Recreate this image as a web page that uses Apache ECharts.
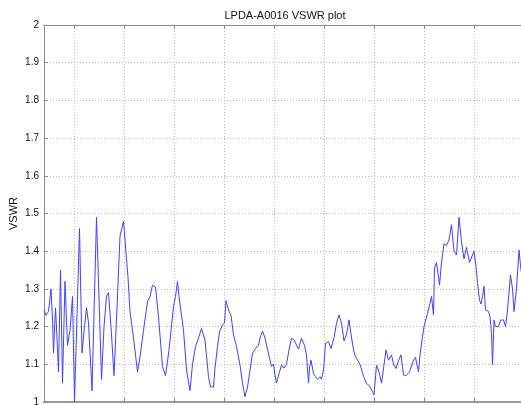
<!DOCTYPE html>
<html>
<head>
<meta charset="utf-8">
<script src="https://cdn.jsdelivr.net/npm/echarts@6/dist/echarts.min.js"></script>
<style>
html,body{margin:0;padding:0;background:#fff;}
#chart{width:521px;height:405px;}
</style>
</head>
<body>
<div id="chart"></div>
<script>
const chartTitle = 'LPDA-A0016 VSWR plot';
const yAxisName = 'VSWR';
const yTicks = [1, 1.1, 1.2, 1.3, 1.4, 1.5, 1.6, 1.7, 1.8, 1.9, 2];
const xRange = [40, 1000];

const freqMHz = [40,44,49,54,57,59,63,66,69,73,77,82,87,92,97,101,111,116,121,125,129,136,145,155,160,165,169,174,180,186,192,199,203,208,212,219,227,232,239,247,252,257,263,269,277,283,290,299,303,307,310,319,325,332,337,343,349,355,357,362,369,373,379,382,387,391,397,401,404,409,414,419,425,432,437,442,447,452,457,462,469,472,477,482,487,491,495,499,502,505,510,515,520,525,530,535,540,544,549,555,561,565,569,571,574,579,583,587,592,595,599,603,609,614,620,625,630,635,640,645,650,654,659,663,667,672,679,685,692,700,705,710,715,718,724,729,735,739,744,749,754,759,764,771,774,779,783,789,792,797,800,803,807,812,815,819,821,825,831,835,840,845,850,855,860,865,870,875,880,885,891,895,900,904,907,911,914,917,920,923,929,932,935,937,940,943,949,953,959,963,967,973,977,980,985,990,994,998];
const vswr = [1.245,1.23,1.24,1.30,1.22,1.13,1.25,1.17,1.08,1.35,1.05,1.32,1.15,1.19,1.28,1.00,1.46,1.13,1.20,1.25,1.21,1.03,1.49,1.06,1.20,1.28,1.29,1.20,1.07,1.25,1.44,1.48,1.48,1.33,1.24,1.17,1.08,1.12,1.19,1.266,1.28,1.31,1.305,1.226,1.094,1.07,1.138,1.253,1.28,1.32,1.28,1.19,1.085,1.03,1.10,1.147,1.17,1.195,1.20,1.164,1.067,1.04,1.04,1.09,1.147,1.186,1.204,1.21,1.269,1.244,1.23,1.178,1.147,1.098,1.05,1.014,1.04,1.085,1.129,1.14,1.151,1.169,1.188,1.17,1.14,1.138,1.094,1.10,1.072,1.05,1.075,1.098,1.09,1.10,1.138,1.169,1.165,1.17,1.14,1.169,1.15,1.125,1.05,1.09,1.111,1.076,1.067,1.06,1.067,1.06,1.085,1.156,1.16,1.142,1.17,1.209,1.231,1.21,1.162,1.18,1.218,1.18,1.138,1.12,1.125,1.10,1.068,1.05,1.04,1.019,1.098,1.08,1.05,1.054,1.138,1.111,1.125,1.10,1.089,1.11,1.125,1.072,1.07,1.08,1.08,1.111,1.118,1.08,1.125,1.173,1.20,1.20,1.235,1.262,1.28,1.231,1.355,1.37,1.31,1.37,1.42,1.415,1.43,1.47,1.40,1.39,1.49,1.425,1.38,1.41,1.37,1.37,1.40,1.36,1.315,1.27,1.26,1.28,1.307,1.244,1.24,1.226,1.182,1.10,1.217,1.20,1.20,1.217,1.218,1.20,1.244,1.337,1.30,1.24,1.30,1.403,1.35,1.33];

const seriesData = freqMHz.map((f, i) => [f, vswr[i]]);

const chart = echarts.init(document.getElementById('chart'), null, {renderer: 'canvas'});
const gridLine = {show: true, lineStyle: {color: '#bdbdbd', type: [1, 2], width: 1}};
const axisLineStyle = {show: true, lineStyle: {color: '#8a8a8a', width: 1}};
chart.setOption({
  animation: false,
  backgroundColor: '#ffffff',
  title: {
    text: chartTitle,
    left: 280,
    textAlign: 'center',
    top: 5,
    textStyle: {fontFamily: 'Liberation Sans, Arial, sans-serif', fontSize: 11, fontWeight: 'normal', color: '#111'}
  },
  grid: {left: 44, top: 25, width: 480, height: 377, containLabel: false, outerBoundsMode: 'none'},
  xAxis: [{
    type: 'value', min: xRange[0], max: xRange[1], splitNumber: 10,
    position: 'bottom',
    axisLine: {show: true, onZero: false, lineStyle: {color: '#9a9a9a', width: 2}},
    axisTick: {show: true, inside: true, length: 4, lineStyle: {color: '#8a8a8a'}},
    axisLabel: {show: false},
    splitLine: gridLine
  }, {
    type: 'value', min: xRange[0], max: xRange[1], splitNumber: 10,
    position: 'top',
    axisLine: axisLineStyle,
    axisTick: {show: true, inside: true, length: 4, lineStyle: {color: '#8a8a8a'}},
    axisLabel: {show: false},
    splitLine: {show: false}
  }],
  yAxis: {
    type: 'value', min: yTicks[0], max: yTicks[yTicks.length - 1], interval: 0.1,
    name: yAxisName, nameLocation: 'middle', nameGap: 25, nameRotate: 90, nameMoveOverlap: false,
    nameTextStyle: {fontFamily: 'Liberation Sans, Arial, sans-serif', fontSize: 11, color: '#111'},
    axisLine: axisLineStyle,
    axisTick: {show: true, inside: true, length: 4, lineStyle: {color: '#8a8a8a'}},
    axisLabel: {margin: 5, fontFamily: 'Liberation Sans, Arial, sans-serif', fontSize: 10, color: '#111'},
    splitLine: gridLine
  },
  series: [{
    type: 'line',
    data: seriesData,
    showSymbol: false,
    symbol: 'none',
    lineStyle: {color: '#4040ff', width: 1},
    xAxisIndex: 0
  }]
});
</script>
</body>
</html>
